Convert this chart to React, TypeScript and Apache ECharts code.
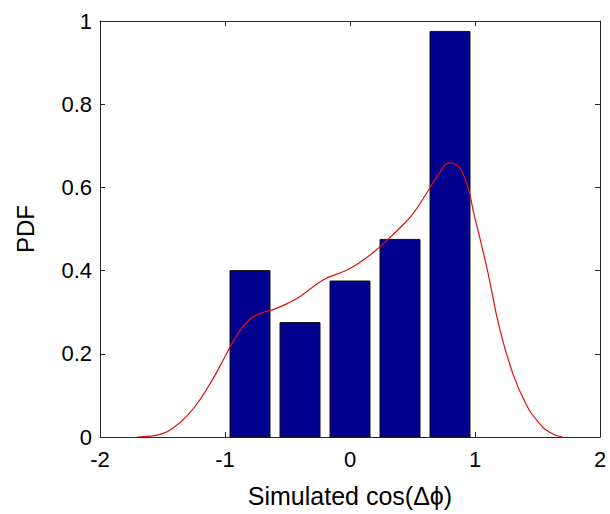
import React, { useEffect, useRef } from "react";
import * as echarts from "echarts";

const binCenters = [-0.8, -0.4, 0, 0.4, 0.8];
const binValues = [0.4, 0.275, 0.375, 0.475, 0.975];
const barWidthData = 0.32;

const kdeX = [-1.7, -1.6, -1.5, -1.4, -1.3, -1.2, -1.1, -1.0, -0.9, -0.8, -0.7, -0.6, -0.5, -0.4, -0.3, -0.2, -0.1, 0, 0.1, 0.2, 0.3, 0.4, 0.5, 0.6, 0.7, 0.8, 0.9, 1.0, 1.1, 1.2, 1.3, 1.4, 1.5, 1.6, 1.7];
const kdeY = [0, 0.002, 0.008, 0.025, 0.052, 0.09, 0.138, 0.193, 0.247, 0.283, 0.299, 0.308, 0.321, 0.338, 0.36, 0.38, 0.392, 0.405, 0.424, 0.447, 0.474, 0.503, 0.535, 0.58, 0.627, 0.659, 0.636, 0.525, 0.4, 0.257, 0.155, 0.084, 0.038, 0.011, 0];

const xTitle = "Simulated cos(Δϕ)";
const yTitle = "PDF";

export default function App() {
  const ref = useRef<HTMLDivElement>(null);
  useEffect(() => {
    if (!ref.current) return;
    const chart = echarts.init(ref.current, null, { renderer: "svg" });
    const font = "Liberation Sans, Arial, sans-serif";
    const axisColor = "#262626";
    const common = {
      axisLine: { show: true, onZero: false, lineStyle: { color: axisColor, width: 1 } },
      axisTick: { show: true, inside: true, length: 5, lineStyle: { color: axisColor } },
      splitLine: { show: false },
    };
    chart.setOption({
      animation: false,
      backgroundColor: "#ffffff",
      grid: { left: 100, right: 10, top: 21, bottom: 77 },
      xAxis: [
        {
          type: "value", min: -2, max: 2, interval: 1, position: "bottom",
          ...common,
          axisLabel: { color: "#000", fontFamily: font, fontSize: 22, margin: 11 },
          name: xTitle, nameLocation: "middle", nameGap: 46,
          nameTextStyle: { color: "#000", fontFamily: font, fontSize: 25 },
        },
        {
          type: "value", min: -2, max: 2, interval: 1, position: "top",
          ...common, axisLabel: { show: false },
        },
      ],
      yAxis: [
        {
          type: "value", min: 0, max: 1, interval: 0.2, position: "left",
          ...common,
          axisLabel: { color: "#000", fontFamily: font, fontSize: 22, margin: 8 },
          name: yTitle, nameLocation: "middle", nameGap: 63, nameRotate: 90,
          nameTextStyle: { color: "#000", fontFamily: font, fontSize: 24 },
        },
        {
          type: "value", min: 0, max: 1, interval: 0.2, position: "right",
          ...common, axisLabel: { show: false },
        },
      ],
      series: [
        {
          type: "custom",
          xAxisIndex: 0, yAxisIndex: 0,
          data: binCenters.map((c, i) => [c, binValues[i]]),
          renderItem: (params: any, api: any) => {
            const c = api.value(0);
            const v = api.value(1);
            const p0 = api.coord([c - barWidthData / 2, v]);
            const p1 = api.coord([c + barWidthData / 2, 0]);
            return {
              type: "rect",
              shape: { x: p0[0], y: p0[1], width: p1[0] - p0[0], height: p1[1] - p0[1] },
              style: { fill: "#00008f", stroke: "#111", lineWidth: 1 },
            };
          },
          z: 2,
        },
        {
          type: "line",
          xAxisIndex: 0, yAxisIndex: 0,
          data: kdeX.map((x, i) => [x, kdeY[i]]),
          smooth: 0.5,
          showSymbol: false,
          lineStyle: { color: "#e01010", width: 1.2 },
          z: 3,
        },
      ],
    });
    return () => chart.dispose();
  }, []);
  return <div ref={ref} style={{ position: "fixed", left: 0, top: 0, width: 610, height: 514 }} />;
}
